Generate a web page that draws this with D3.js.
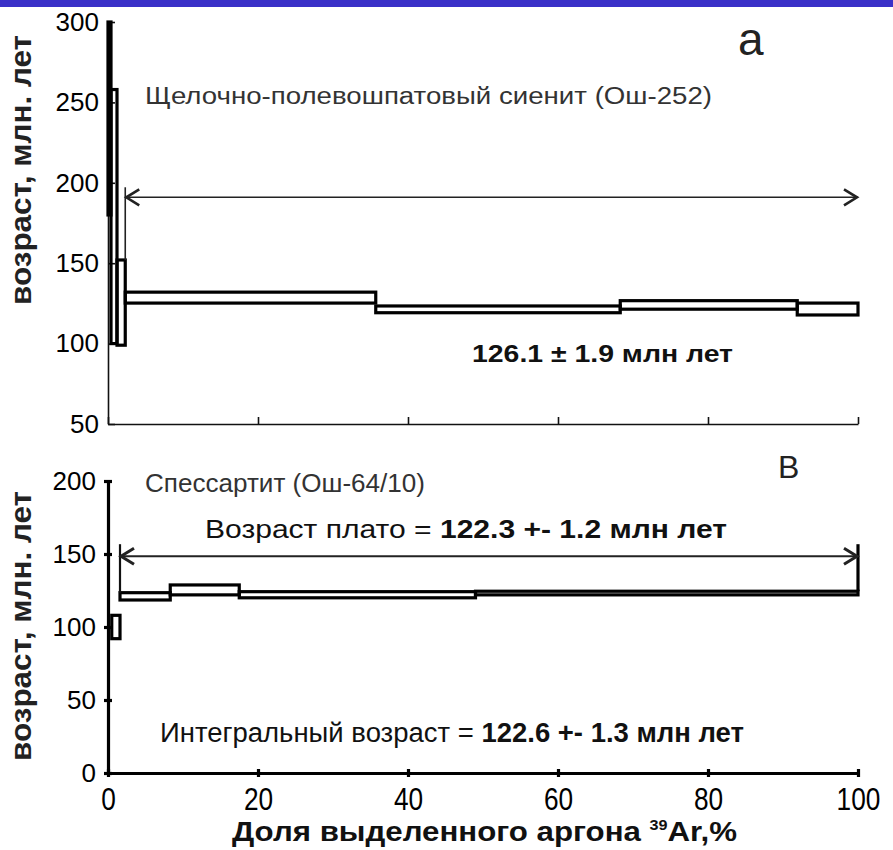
<!DOCTYPE html>
<html>
<head>
<meta charset="utf-8">
<script src="https://cdn.jsdelivr.net/npm/d3@7"></script>
<style>
  body { margin: 0; background: #fff; }
  text { font-family: "Liberation Sans", Arial, sans-serif; }
</style>
</head>
<body>
<div id="chart"></div>
<script>
// panel a: steps of released 39Ar (%), age min / max (Ma)
const aX0 = [0, 0.4, 1.2, 2.3, 35.7, 68.3, 91.9];
const aX1 = [0.4, 1.2, 2.3, 35.7, 68.3, 91.9, 100];
const aLo = [180, 100, 99, 125.2, 119.2, 121.4, 117.8];
const aHi = [300, 258, 152, 132, 123.4, 126.7, 125.2];
const aTicks = [50, 100, 150, 200, 250, 300];
const aPlateau = [2.3, 100, 191];

// panel b
const bX0 = [0.5, 1.6, 8.3, 17.5, 49];
const bX1 = [1.6, 8.3, 17.5, 49, 100];
const bLo = [92, 118.5, 122, 120, 122];
const bHi = [108, 123.5, 128.8, 124.2, 124.5];
const bTicks = [0, 50, 100, 150, 200];
const bPlateau = [1.6, 100, 148.5];

const xTicks = [0, 20, 40, 60, 80, 100];

const W = 893, H = 850;
const svg = d3.select("#chart").append("svg")
    .attr("width", W).attr("height", H);

// blue strip along the top
svg.append("rect").attr("x", 0).attr("y", 0).attr("width", W).attr("height", 7)
    .attr("fill", "#3a30c8");

const x = d3.scaleLinear().domain([0, 100]).range([108, 858]);
const ya = d3.scaleLinear().domain([50, 300]).range([424, 22]);
const yb = d3.scaleLinear().domain([0, 200]).range([773, 481]);

function steps(y, x0, x1, lo, hi) {
    svg.append("g").selectAll("rect")
        .data(x0.map((d, i) => ({x0: d, x1: x1[i], lo: lo[i], hi: hi[i]})))
        .join("rect")
        .attr("x", d => x(d.x0))
        .attr("y", d => y(d.hi))
        .attr("width", d => x(d.x1) - x(d.x0))
        .attr("height", d => y(d.lo) - y(d.hi))
        .attr("fill", "none")
        .attr("stroke", "#000")
        .attr("stroke-width", 3.2);
}

function arrow(xa, xb, yy, w) {
    const g = svg.append("g").attr("stroke", "#222").attr("fill", "none")
        .attr("stroke-width", w);
    g.append("line").attr("x1", xa).attr("x2", xb).attr("y1", yy).attr("y2", yy);
    g.append("path").attr("d", `M${xa + 14},${yy - 8}L${xa + 1},${yy}L${xa + 14},${yy + 8}`)
        .attr("stroke-width", w + 1);
    g.append("path").attr("d", `M${xb - 14},${yy - 8}L${xb - 1},${yy}L${xb - 14},${yy + 8}`)
        .attr("stroke-width", w + 1);
}

// ---- panel a ----
const axA = svg.append("g").attr("transform", `translate(${x(0)},0)`)
    .call(d3.axisLeft(ya).tickValues(aTicks).tickSizeInner(-7).tickSizeOuter(0).tickPadding(9));
axA.select(".domain").attr("stroke", "#111").attr("stroke-width", 1.6);
axA.selectAll(".tick line").attr("stroke", "#111").attr("stroke-width", 1.6);
axA.selectAll("text").attr("font-size", 26).attr("fill", "#000");

const axAx = svg.append("g").attr("transform", `translate(0,${ya(50)})`)
    .call(d3.axisBottom(x).tickValues(xTicks).tickSizeInner(-7).tickSizeOuter(0).tickFormat(""));
axAx.select(".domain").attr("stroke", "#111").attr("stroke-width", 1.6);
axAx.selectAll(".tick line").attr("stroke", "#111").attr("stroke-width", 1.6);

steps(ya, aX0, aX1, aLo, aHi);

svg.append("line").attr("x1", x(aPlateau[0])).attr("x2", x(aPlateau[0]))
    .attr("y1", ya(aPlateau[2]) - 10).attr("y2", ya(aHi[2]))
    .attr("stroke", "#222").attr("stroke-width", 1.6);
arrow(x(aPlateau[0]), x(aPlateau[1]), ya(aPlateau[2]), 1.6);

svg.append("text").attr("x", 738).attr("y", 55).attr("font-size", 46)
    .attr("fill", "#222").text("а");
svg.append("text").attr("x", 145).attr("y", 104).attr("font-size", 23)
    .attr("fill", "#333").attr("textLength", 567).attr("lengthAdjust", "spacingAndGlyphs")
    .text("Щелочно-полевошпатовый сиенит (Ош-252)");
svg.append("text").attr("x", 472).attr("y", 362).attr("font-size", 23)
    .attr("font-weight", "bold").attr("fill", "#111")
    .attr("textLength", 261).attr("lengthAdjust", "spacingAndGlyphs")
    .text("126.1 ± 1.9 млн лет");

// ---- panel b ----
const axB = svg.append("g").attr("transform", `translate(${x(0)},0)`)
    .call(d3.axisLeft(yb).tickValues(bTicks).tickSizeInner(4).tickSizeOuter(0).tickPadding(8));
axB.select(".domain").attr("stroke", "#000").attr("stroke-width", 3.2);
axB.selectAll(".tick line").attr("x1", -4).attr("x2", 4)
    .attr("stroke", "#000").attr("stroke-width", 3.2);
axB.selectAll("text").attr("font-size", 26).attr("fill", "#000");

const axBx = svg.append("g").attr("transform", `translate(0,${yb(0)})`)
    .call(d3.axisBottom(x).tickValues(xTicks).tickSizeInner(4).tickSizeOuter(0).tickPadding(10));
axBx.select(".domain").attr("stroke", "#000").attr("stroke-width", 3.2);
axBx.selectAll(".tick line").attr("y1", -4).attr("y2", 4)
    .attr("stroke", "#000").attr("stroke-width", 3.2);
axBx.selectAll("text").attr("font-size", 32).attr("fill", "#000")
    .attr("transform", "scale(0.82,1)");

steps(yb, bX0, bX1, bLo, bHi);

svg.append("line").attr("x1", x(bPlateau[0])).attr("x2", x(bPlateau[0]))
    .attr("y1", yb(bPlateau[2]) - 12).attr("y2", yb(bHi[1]))
    .attr("stroke", "#111").attr("stroke-width", 2.2);
svg.append("line").attr("x1", x(bPlateau[1])).attr("x2", x(bPlateau[1]))
    .attr("y1", yb(bPlateau[2]) - 12).attr("y2", yb(bHi[4]))
    .attr("stroke", "#000").attr("stroke-width", 3.2);
arrow(x(bPlateau[0]), x(bPlateau[1]), yb(bPlateau[2]), 2);

svg.append("text").attr("x", 778).attr("y", 478).attr("font-size", 32)
    .attr("fill", "#222").text("В");
svg.append("text").attr("x", 145).attr("y", 492).attr("font-size", 25)
    .attr("fill", "#333").attr("textLength", 280).attr("lengthAdjust", "spacingAndGlyphs")
    .text("Спессартит (Ош-64/10)");

const tPl = svg.append("text").attr("x", 205).attr("y", 538).attr("font-size", 25)
    .attr("fill", "#111").attr("textLength", 522).attr("lengthAdjust", "spacingAndGlyphs");
tPl.append("tspan").text("Возраст плато = ");
tPl.append("tspan").attr("font-weight", "bold").text("122.3 +- 1.2 млн лет");

const tInt = svg.append("text").attr("x", 160).attr("y", 742).attr("font-size", 27)
    .attr("fill", "#111").attr("textLength", 584).attr("lengthAdjust", "spacingAndGlyphs");
tInt.append("tspan").text("Интегральный возраст = ");
tInt.append("tspan").attr("font-weight", "bold").text("122.6 +- 1.3 млн лет");

// x title
const tX = svg.append("text").attr("x", 232).attr("y", 841).attr("font-size", 27)
    .attr("font-weight", "bold").attr("fill", "#111")
    .attr("textLength", 505).attr("lengthAdjust", "spacingAndGlyphs");
tX.append("tspan").text("Доля выделенного аргона ");
tX.append("tspan").attr("font-size", 14).attr("dy", -11).text("39");
tX.append("tspan").attr("dy", 11).text("Ar,%");

// y titles
function yTitle(cy) {
    svg.append("text")
        .attr("transform", `translate(31,${cy}) rotate(-90)`)
        .attr("text-anchor", "middle")
        .attr("font-size", 30).attr("font-weight", "bold").attr("fill", "#222")
        .attr("textLength", 270).attr("lengthAdjust", "spacingAndGlyphs")
        .text("возраст, млн. лет");
}
yTitle(170);
yTitle(626);
</script>
</body>
</html>
